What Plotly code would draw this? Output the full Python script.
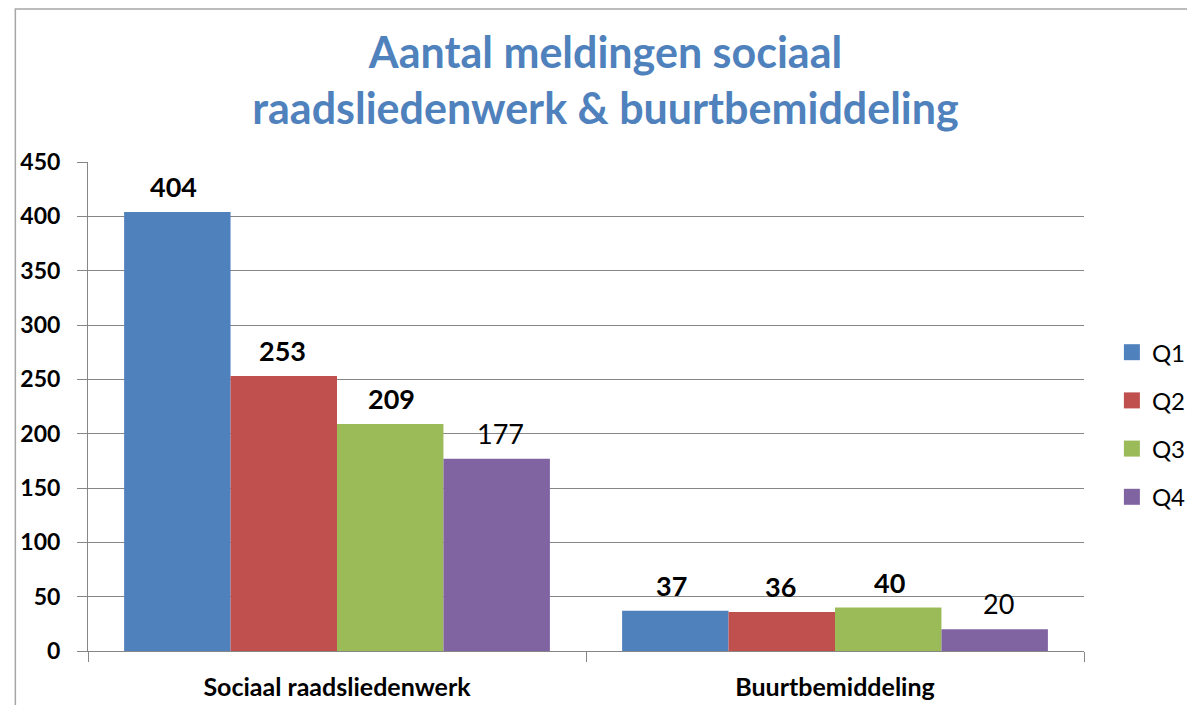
import plotly.graph_objects as go

categories = ["Sociaal raadsliedenwerk", "Buurtbemiddeling"]
series_names = ["Q1", "Q2", "Q3", "Q4"]
q1 = [404, 37]
q2 = [253, 36]
q3 = [209, 40]
q4 = [177, 20]
series_values = [q1, q2, q3, q4]
bold_labels = [True, True, True, False]
colors = ["#4F81BD", "#C0504D", "#9BBB59", "#8064A2"]
y_ticks = [0, 50, 100, 150, 200, 250, 300, 350, 400, 450]

FONT = "Lato, Carlito, Calibri, sans-serif"

ML, MR, MT, MB = 75, 102, 154, 62
W, H = 1195, 705

fig = go.Figure()
for name, vals, col in zip(series_names, series_values, colors):
    fig.add_trace(go.Bar(name=name, x=categories, y=vals, showlegend=False,
                         marker=dict(color=col, line=dict(width=0))))
# legend entries with larger square swatches
for name, col in zip(series_names, colors):
    fig.add_trace(go.Scatter(name=name, x=[None], y=[None], mode="markers",
                             legendgroup=name, showlegend=True,
                             marker=dict(symbol="square", size=17, color=col)))

# data labels above bars
plot_w = W - ML - MR
plot_h = H - MT - MB
cat_w = plot_w / len(categories)
bargap = 0.145
bar_w = cat_w * (1 - bargap) / len(series_names)
annotations = []
for i, (vals, b) in enumerate(zip(series_values, bold_labels)):
    off = (i - (len(series_names) - 1) / 2) * bar_w
    for c, v in zip(categories, vals):
        annotations.append(dict(
            x=c, y=v, xref="x", yref="y", xshift=off, yshift=7,
            yanchor="bottom", showarrow=False,
            text=f"<b>{v}</b>" if b else str(v),
            font=dict(family=FONT, size=27, color="#000000"),
        ))

fig.update_layout(
    width=W, height=H,
    margin=dict(l=ML, r=MR, t=MT, b=MB),
    paper_bgcolor="white", plot_bgcolor="white",
    barmode="group", bargap=bargap, bargroupgap=0,
    title=dict(
        text="<b>Aantal meldingen sociaal<br>raadsliedenwerk &amp; buurtbemiddeling</b>",
        x=0.5, xanchor="center", y=0.915, yanchor="middle",
        font=dict(family=FONT, size=43, color="#4F81BD"),
    ),
    font=dict(family=FONT, color="#000000"),
    showlegend=True,
    legend=dict(
        x=1.028, xanchor="left", y=0.463, yanchor="middle",
        font=dict(family=FONT, size=24, color="#000000"),
        tracegroupgap=14, itemwidth=30,
    ),
    annotations=annotations,
    shapes=[dict(type="rect", xref="paper", yref="paper",
                 x0=(0.75 - ML) / plot_w, x1=1.3, y0=-0.3,
                 y1=(plot_h + MT - 1) / plot_h,
                 line=dict(color="#A6A6A6", width=1.5), layer="below")],
)

fig.update_xaxes(
    type="category", tickson="boundaries", ticks="outside", ticklen=10,
    tickcolor="#868686", showline=True, linecolor="#868686", linewidth=1,
    showgrid=False, ticklabelstandoff=14,
    tickfont=dict(family=FONT, size=25, color="#000000", weight="bold"),
)
fig.update_yaxes(
    range=[0, 450], tickvals=y_ticks, ticks="outside", ticklen=10,
    tickcolor="#868686", showline=True, linecolor="#868686", linewidth=1,
    showgrid=True, gridcolor="#868686", gridwidth=1, zeroline=False,
    ticklabelstandoff=12,
    tickfont=dict(family=FONT, size=23, color="#000000", weight="bold"),
)

fig.write_html("out.html")
